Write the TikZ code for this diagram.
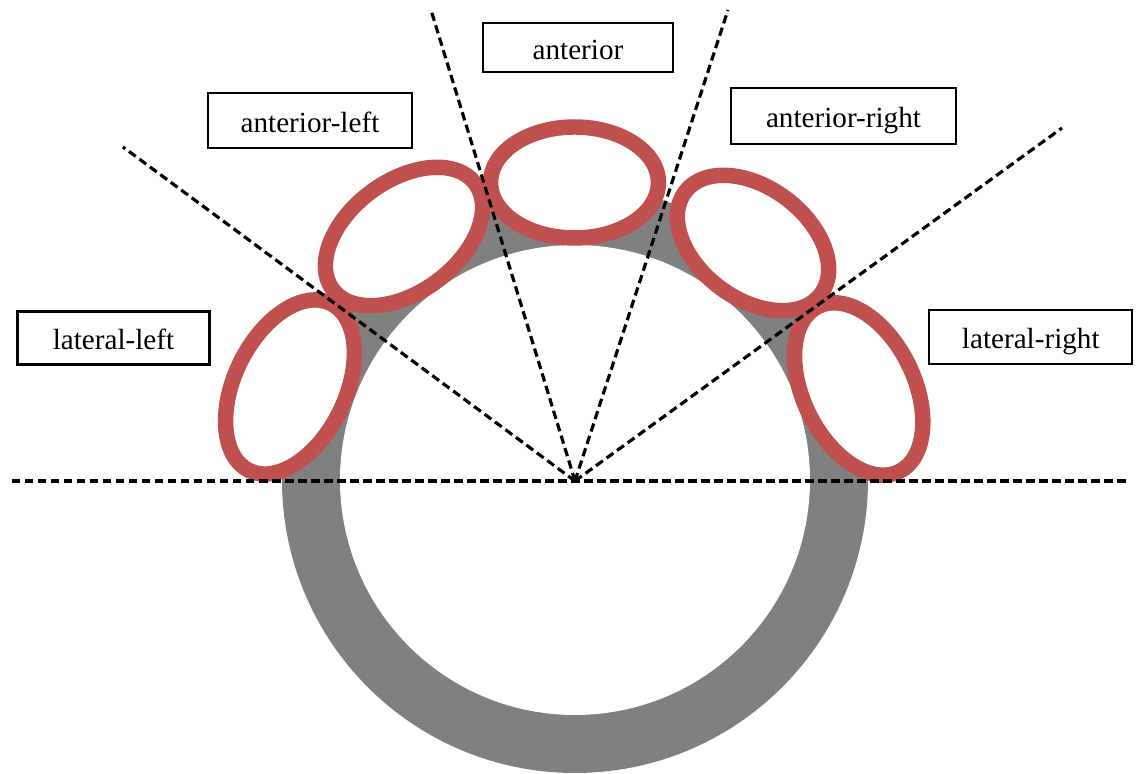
\documentclass[tikz,border=0pt]{standalone}
\usepackage{fontspec}
\setmainfont{Liberation Serif}
\definecolor{wallgray}{RGB}{128,128,128}
\definecolor{sinusred}{RGB}{192,80,77}
\tikzset{
  sinus/.style={draw=sinusred,line width=4.4pt,fill=white},
  sector/.style={dash pattern=on 2.4pt off 1.3pt,line width=0.9pt},
  labelbox/.style={draw,line width=0.65pt,fill=white,inner sep=0pt,
    text height=0.68em,text depth=0pt,font=\fontsize{8.3pt}{10pt}\selectfont}
}
\begin{document}
\begin{tikzpicture}
\useasboundingbox (-5.75,-2.93) rectangle (5.64,4.81);
% ring
\fill[wallgray] (0,0.01) circle (2.93);
\fill[white] (0,0.01) circle (2.35);
% the five sinuses
\draw[sinus,shift={(-2.85,0.94)},rotate=64] (0,0) ellipse (0.93 and 0.555);
\draw[sinus,shift={(-1.71,2.445)},rotate=36.6] (0,0) ellipse (0.888 and 0.555);
\draw[sinus,shift={(-0.005,2.985)}] (0,0) ellipse (0.84 and 0.555);
\draw[sinus,shift={(1.78,2.38)},rotate=-37] (0,0) ellipse (0.85 and 0.555);
\draw[sinus,shift={(2.837,0.92)},rotate=-64] (0,0) ellipse (0.92 and 0.555);
% sector lines
\coordinate (o) at (0,0);
\coordinate (west) at (-5.63,0);
\coordinate (east) at (5.55,0);
\coordinate (ll) at (-4.52,3.34);
\coordinate (al) at (-1.44,4.71);
\coordinate (ar) at (1.53,4.71);
\coordinate (lr) at (4.87,3.53);
\draw[sector] (west) -- (east);
\draw[sector] (o) -- (ll);
\draw[sector] (o) -- (al);
\draw[sector] (o) -- (ar);
\draw[sector] (o) -- (lr);
% labels
\node[labelbox,minimum width=1.92cm,minimum height=0.53cm] (lateralleft) at (-4.615,1.43) {lateral-left};
\node[labelbox,minimum width=2.04cm,minimum height=0.55cm] (anteriorleft) at (-2.65,3.605) {anterior-left};
\node[labelbox,minimum width=1.90cm,minimum height=0.49cm] (anterior) at (0.03,4.335) {anterior};
\node[labelbox,minimum width=2.25cm,minimum height=0.56cm] (anteriorright) at (2.685,3.65) {anterior-right};
\node[labelbox,minimum width=2.03cm,minimum height=0.54cm] (lateralright) at (4.558,1.44) {lateral-right};
\end{tikzpicture}
\end{document}
